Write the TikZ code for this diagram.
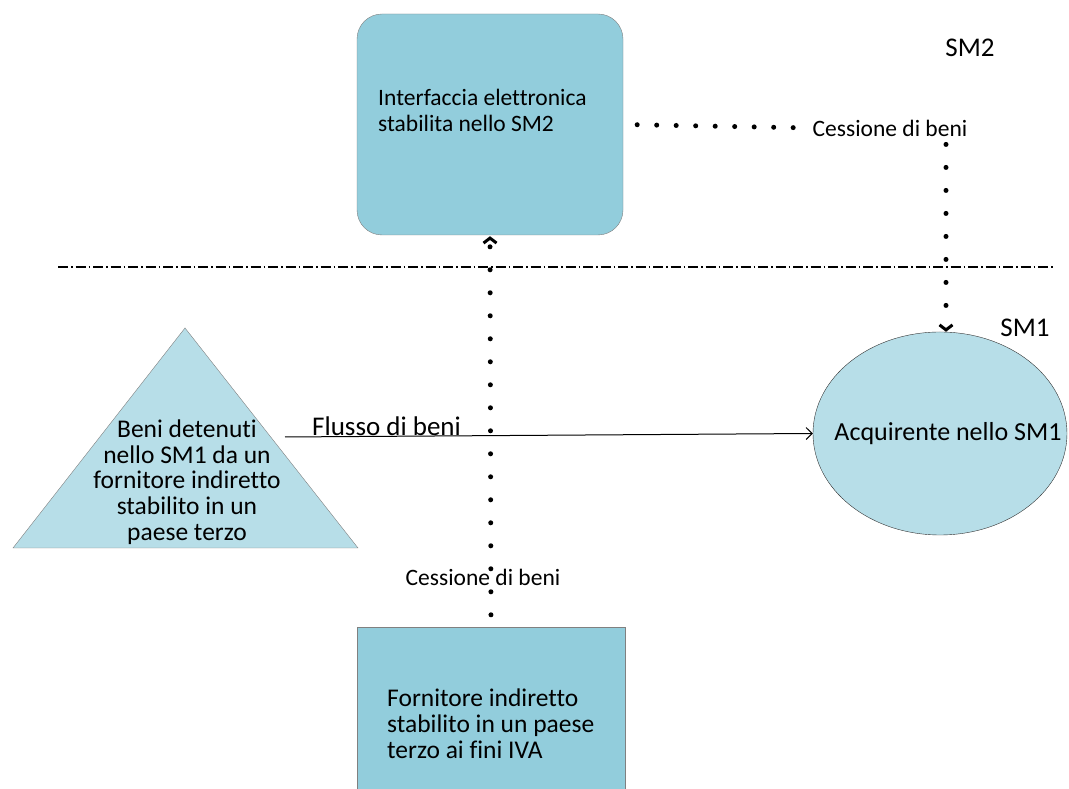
\documentclass[tikz,border=0pt]{standalone}
\usepackage{fontspec}
\setmainfont{Carlito}[Ligatures=NoCommon]
\usetikzlibrary{arrows.meta,calc,shapes.geometric}
\definecolor{boxblue}{HTML}{92CDDC}
\definecolor{lightblue}{HTML}{B7DEE8}
\tikzset{
  txt/.style={inner sep=0pt, align=left, font=\fontsize{23.5}{26}\selectfont},
  bigtxt/.style={inner sep=0pt, font=\fontsize{27}{30}\selectfont},
  dots/.style={line width=5pt, line cap=round, dash pattern=on 0pt off 23pt},
  dotarrow/.style={dots, -{Straight Barb[length=5pt,width=13pt,line width=3pt]}},
}
\begin{document}
\begin{tikzpicture}[x=1pt,y=1pt]
  \useasboundingbox (0,0) rectangle (1069,789);
  \clip (0,0) rectangle (1069,789);
  \node[draw=gray, fill=boxblue, rounded corners=25pt, minimum width=266pt, minimum height=221pt] (iface) at (490,664.5) {};
  \node[txt, anchor=west] (ifacetxt) at (378,679) {Interfaccia elettronica\\stabilita nello SM2};
  \node[draw=gray, fill=boxblue, minimum width=268pt, minimum height=200pt] (forn) at (491,62) {};
  \node[txt, anchor=west, font=\fontsize{25.5}{26}\selectfont] (forntxt) at (387,65) {Fornitore indiretto\\stabilito in un paese\\terzo ai fini IVA};
  \node[draw=black!80, fill=lightblue, ellipse, minimum width=254pt, minimum height=203pt, inner sep=0pt] (acq) at (940,355.5) {};
  \node[txt, font=\fontsize{26}{26}\selectfont] (acqtxt) at ($(acq)+(8,0)$) {Acquirente nello SM1};
  \draw[draw=gray, fill=lightblue] (13,241) -- (185,461) -- (358,241) -- cycle;
  \node[txt, align=center, font=\fontsize{25.5}{25.7}\selectfont] (beni) at (187,307) {Beni detenuti\\nello SM1 da un\\fornitore indiretto\\stabilito in un\\paese terzo};
  \node[bigtxt] (sm2) at (970,741) {SM2};
  \node[bigtxt] (sm1) at (1025,461) {SM1};
  \node[txt] (cess2) at (890,661) {Cessione di beni};
  \node[txt] (cess1) at (483,212) {Cessione di beni};
  \node[bigtxt, anchor=base west] (flusso) at (312,353) {Flusso di beni};
  \coordinate (flow) at (285,352);
  \draw[dash pattern=on 10pt off 3pt on 1.5pt off 3pt, line width=1.2pt] (58,522) -- (1055,522);
  \draw[dots, dash pattern=on 0pt off 19.5pt, shorten <=14pt, shorten >=4pt] (iface.east) -- (cess2.west);
  \draw[dotarrow, shorten <=8pt] ($(acq.north |- cess2.south)+(6,0)$) -- ($(acq.north)+(6,0)$);
  \draw[dotarrow, shorten <=12pt, shorten >=1pt] (forn.north) -- (iface.south);
  \draw[line width=1pt, -{Straight Barb[length=6pt,width=12pt]}] (flow) -- (acq.west);
\end{tikzpicture}
\end{document}
